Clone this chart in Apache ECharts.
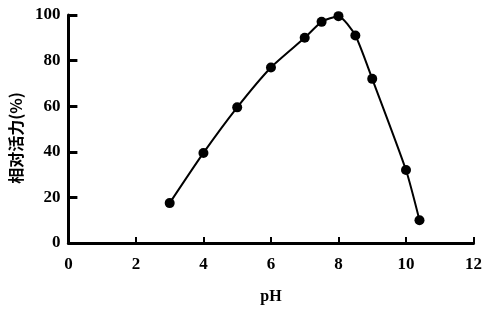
<!DOCTYPE html>
<html><head><meta charset="utf-8">
<script src="https://cdn.jsdelivr.net/npm/echarts@6/dist/echarts.min.js"></script>
<style>html,body{margin:0;padding:0;background:#fff}#c{width:485px;height:310px}</style>
</head><body><div id="c"></div>
<script>
const phValues = [3.0, 4.0, 5.0, 6.0, 7.0, 7.5, 8.0, 8.5, 9.0, 10.0, 10.4];
const activity = [17.5, 39.5, 59.5, 77, 90, 97, 99.5, 91, 72, 32, 10];
const xTicks = [0, 2, 4, 6, 8, 10, 12];
const yTicks = [0, 20, 40, 60, 80, 100];

const chart = echarts.init(document.getElementById('c'));
const serif = '"Liberation Serif", "DejaVu Serif", serif';
chart.setOption({
  animation: false,
  grid: { left: 67, right: 8, top: 15, bottom: 67 },
  xAxis: {
    type: 'value', min: 0, max: 12, interval: 2,
    name: 'pH', nameLocation: 'middle', nameGap: 46,
    nameTextStyle: { fontFamily: serif, fontWeight: 'bold', fontSize: 16, color: '#000' },
    axisLine: { lineStyle: { color: '#000', width: 3 } },
    axisTick: { inside: true, length: 6, lineStyle: { color: '#000', width: 2 } },
    axisLabel: { margin: 13, fontFamily: serif, fontWeight: 'bold', fontSize: 17, color: '#000',
      formatter: v => xTicks.includes(v) ? String(v) : '' },
    splitLine: { show: false }
  },
  yAxis: {
    type: 'value', min: 0, max: 100, interval: 20,
    name: '相对活力(%)', nameLocation: 'middle', nameGap: 42, nameRotate: 90,
    nameTextStyle: { fontFamily: '"Noto Sans CJK SC", sans-serif', fontWeight: 'bold', fontSize: 16, color: '#000',
      padding: [0, 18, 0, 0] },
    axisLine: { lineStyle: { color: '#000', width: 3 } },
    axisTick: { inside: true, length: 9, lineStyle: { color: '#000', width: 3 } },
    axisLabel: { margin: 8, fontFamily: serif, fontWeight: 'bold', fontSize: 17, color: '#000',
      formatter: v => yTicks.includes(v) ? String(v) : '' },
    splitLine: { show: false }
  },
  series: [{
    type: 'line',
    data: phValues.map((x, i) => [x, activity[i]]),
    smooth: 0.2,
    symbol: 'circle', symbolSize: 10,
    itemStyle: { color: '#000' },
    lineStyle: { color: '#000', width: 2 }
  }]
});
</script></body></html>
